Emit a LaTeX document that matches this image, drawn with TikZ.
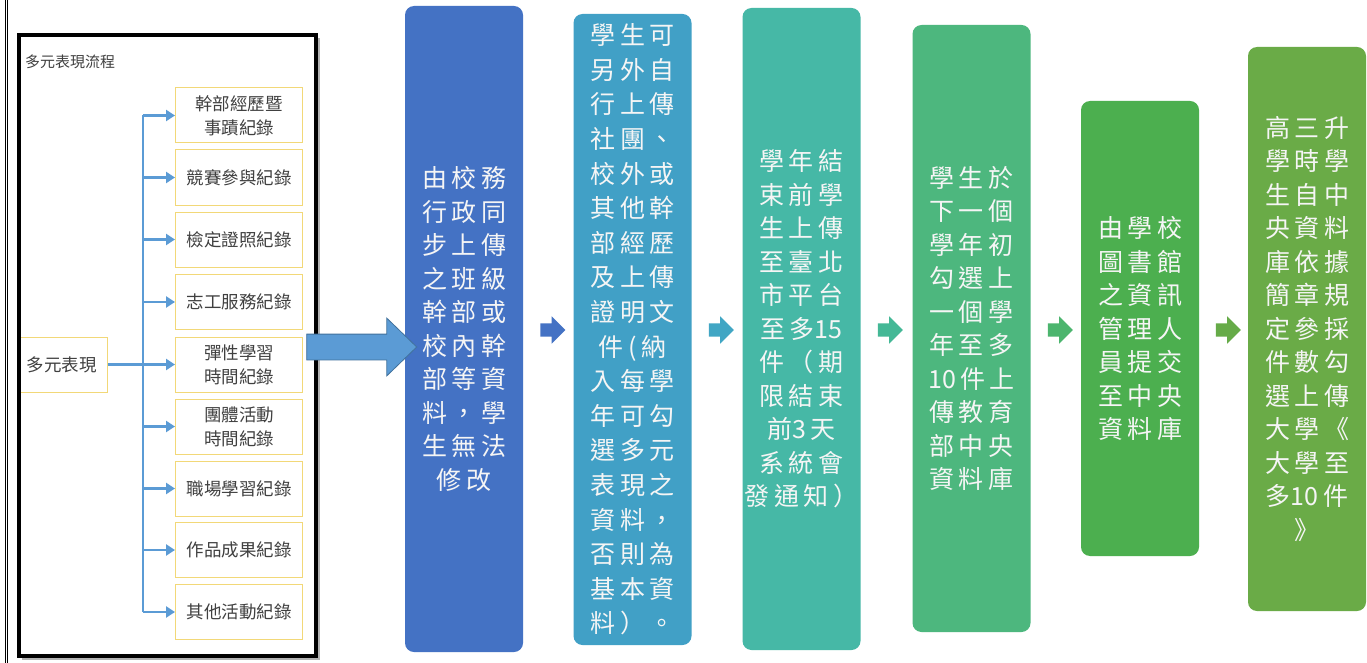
\documentclass[tikz,border=0pt]{standalone}
\usepackage{fontspec}
\usetikzlibrary{arrows.meta,shapes.arrows}
\newfontfamily\cjk{Noto Sans CJK TC}
\newfontfamily\cjkcol[LetterSpace=18]{Noto Sans CJK TC}
\newcommand{\dg}[1]{{\cjk #1}\hspace{4.5pt}}
\definecolor{colA}{HTML}{4472C4}
\definecolor{colB}{HTML}{41A0C6}
\definecolor{colC}{HTML}{46B8A6}
\definecolor{colD}{HTML}{4DB77E}
\definecolor{colE}{HTML}{4CAF4F}
\definecolor{colF}{HTML}{6AAB47}
\definecolor{arA}{HTML}{4472C4}
\definecolor{arB}{HTML}{41A6C4}
\definecolor{arC}{HTML}{44B896}
\definecolor{arD}{HTML}{4CB56E}
\definecolor{arE}{HTML}{66AB48}
\definecolor{lineblue}{HTML}{5B9BD5}
\definecolor{bigedge}{HTML}{41719C}
\definecolor{gold}{HTML}{F2D878}
\definecolor{txtgray}{HTML}{404040}
\tikzset{
  colbox/.style={rounded corners=9pt, inner sep=0pt, minimum width=118pt,
    text=white!96!black, align=center,
    font=\cjkcol\fontsize{25}{33.5}\selectfont},
  smallarrow/.style={single arrow, minimum height=25pt, inner sep=6.5pt,
    single arrow head extend=7pt},
  subbox/.style={draw=gold, line width=1pt, fill=white, minimum width=127pt,
    minimum height=55pt, align=center, text=txtgray, inner sep=0pt,
    font=\cjk\fontsize{17.5}{24}\selectfont},
  branch/.style={draw=lineblue, line width=2.5pt,
    -{Triangle[length=9pt,width=11pt]}},
}
\begin{document}
\begin{tikzpicture}[x=1pt,y=-1pt]
\useasboundingbox (0,0) rectangle (1367,663);
\fill[white] (0,0) rectangle (1367,663);
% outer double line
\draw[line width=1pt] (5.3,0) -- (5.3,663);
\draw[line width=1pt] (7.7,0) -- (7.7,663);
% frame shadow and interior
\fill[black!30] (22,38) rectangle (319.5,660);
\fill[white] (19,35) rectangle (316,656);
% clipped source box
\begin{scope}
\clip (20.75,36.75) rectangle (314.25,654.25);
\node[draw=gold, line width=1pt, fill=white, minimum width=107pt,
  minimum height=55pt, inner sep=0pt] (src) at (53.5,364.5) {};
\end{scope}
\node[anchor=east, inner sep=0pt, text=txtgray,
  font=\cjk\fontsize{17.5}{24}\selectfont] (srct) at (97,364.5) {多元表現};
\node[anchor=west, inner sep=0pt, text=txtgray,
  font=\cjk\fontsize{15}{18}\selectfont] (title) at (25,62) {多元表現流程};
% sub boxes
\node[subbox] (b1) at (239,115.5) {幹部經歷暨\\事蹟紀錄};
\node[subbox] (b2) at (239,177.5) {競賽參與紀錄};
\node[subbox] (b3) at (239,239.5) {檢定證照紀錄};
\node[subbox] (b4) at (239,302) {志工服務紀錄};
\node[subbox] (b5) at (239,364.5) {彈性學習\\時間紀錄};
\node[subbox] (b6) at (239,426.5) {團體活動\\時間紀錄};
\node[subbox] (b7) at (239,488.5) {職場學習紀錄};
\node[subbox] (b8) at (239,550) {作品成果紀錄};
\node[subbox] (b9) at (239,612) {其他活動紀錄};
% trunk and branches
\coordinate (t1) at (143,115.5);
\coordinate (t9) at (143,612);
\draw[draw=lineblue, line width=2.5pt] (t1) -- (t9);
\foreach \i in {1,2,3,4,6,7,8,9}{
  \draw[branch] (b\i.west -| t1) -- (b\i.west);
}
\draw[branch] (src.east) -- (b5.west);
% frame border
\draw[line width=3.5pt] (19,35) rectangle (316,656);
% columns
\node[colbox, fill=colA, minimum height=646pt] (c1) at (464,329)
  {由校務\\行政同\\步上傳\\之班級\\幹部或\\校內幹\\部等資\\料，學\\生無法\\修改};
\node[colbox, fill=colB, minimum height=631pt,
  font=\cjkcol\fontsize{25}{34.6}\selectfont] (c2) at (632.5,329.5)
  {學生可\\另外自\\行上傳\\社團、\\校外或\\其他幹\\部經歷\\及上傳\\證明文\\件(納\\入每學\\年可勾\\選多元\\表現之\\資料，\\否則為\\基本資\\料）。};
\node[colbox, fill=colC, minimum height=642pt] (c3) at (801.5,329)
  {學年結\\束前學\\生上傳\\至臺北\\市平台\\至多\dg{15}\\件（期\\限結束\\前\dg{3}天\\系統會\\發通知）};
\node[colbox, fill=colD, minimum height=607pt] (c4) at (971.5,328.5)
  {學生於\\下一個\\學年初\\勾選上\\一個學\\年至多\\\dg{10}件上\\傳教育\\部中央\\資料庫};
\node[colbox, fill=colE, minimum height=455pt] (c5) at (1140,328.5)
  {由學校\\圖書館\\之資訊\\管理人\\員提交\\至中央\\資料庫};
\node[colbox, fill=colF, minimum height=564pt] (c6) at (1307,329)
  {高三升\\學時學\\生自中\\央資料\\庫依據\\簡章規\\定參採\\件數勾\\選上傳\\大學《\\大學至\\多\dg{10}件\\》};
% small arrows between columns
\node[smallarrow, fill=arA] (s1) at (549.5,330) {};
\node[smallarrow, fill=arB] (s2) at (718,330) {};
\node[smallarrow, fill=arC] (s3) at (887,330) {};
\node[smallarrow, fill=arD] (s4) at (1057,330) {};
\node[smallarrow, fill=arE] (s5) at (1225,330) {};
% big block arrow from frame to first column
\node[single arrow, fill=lineblue, draw=bigedge, line width=0.8pt,
  minimum height=110pt, inner sep=12.5pt, single arrow head extend=16pt,
  single arrow tip angle=88] (big) at (355,347) {};
\end{tikzpicture}
\end{document}
